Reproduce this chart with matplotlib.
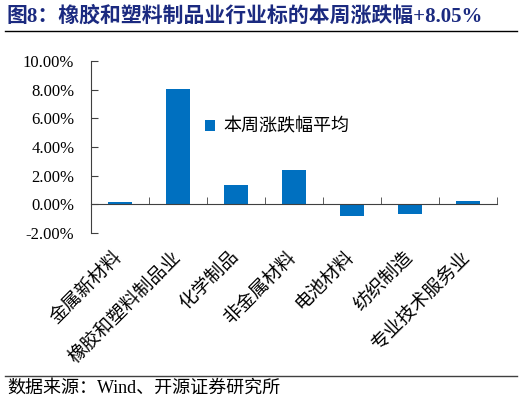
import matplotlib
matplotlib.use("Agg")
import matplotlib.pyplot as plt
from matplotlib.lines import Line2D
from matplotlib.ticker import FuncFormatter, FixedLocator

plt.rcParams['font.family'] = ['Liberation Serif', 'Noto Sans CJK SC', 'DejaVu Sans']

# data (percent change this week)
categories = ['金属新材料', '橡胶和塑料制品业', '化学制品', '非金属材料',
              '电池材料', '纺织制造', '专业技术服务业']
values = [0.14, 8.05, 1.38, 2.38, -0.82, -0.68, 0.23]
yticks = [-2, 0, 2, 4, 6, 8, 10]

bar_color = '#0070C0'
title_color = '#1B2A80'

fig = plt.figure(figsize=(5.22, 4.05), dpi=100)
ax = fig.add_axes([91/522, 1 - 233/405, (497 - 91)/522, (233 - 61)/405])

x = list(range(len(categories)))
ax.bar(x, values, width=0.41, color=bar_color, label='本周涨跌幅平均', zorder=2)

ax.set_xlim(-0.5, len(categories) - 0.5)
ax.set_ylim(-2, 10)
ax.set_yticks(yticks)
ax.yaxis.set_major_formatter(FuncFormatter(lambda v, p: f'{v:.2f}%'))

for s in ['top', 'right']:
    ax.spines[s].set_visible(False)
ax.spines['bottom'].set_position(('data', 0))
ax.spines['left'].set_color('#404040')
ax.spines['bottom'].set_color('#404040')

ax.set_xticks(x)
ax.set_xticklabels(categories, rotation=45, ha='right', va='center',
                   rotation_mode='anchor', fontsize=13.5)
ax.xaxis.set_minor_locator(FixedLocator([i - 0.5 for i in range(len(categories) + 1)]))
ax.tick_params(axis='x', which='major', length=0, pad=36)
ax.tick_params(axis='x', which='minor', direction='in', length=5, color='#404040')
ax.tick_params(axis='y', direction='in', length=5, color='#404040', labelsize=12, pad=12)

ax.legend(loc='center left', bbox_to_anchor=(196/522, 1 - 127/405),
          bbox_transform=fig.transFigure, frameon=False, fontsize=13,
          handlelength=0.55, handleheight=0.55, handletextpad=0.45, borderpad=0)

# title, rules and source note
fig.text(7/522, 1 - 16/405, '图8：橡胶和塑料制品业行业标的本周涨跌幅+8.05%',
         fontsize=15, fontweight='bold', color=title_color, va='center', ha='left')
fig.add_artist(Line2D([5/522, 517/522], [1 - 31/405, 1 - 31/405],
                      transform=fig.transFigure, color='black', lw=1))
fig.add_artist(Line2D([5/522, 517/522], [1 - 376/405, 1 - 376/405],
                      transform=fig.transFigure, color='#404040', lw=1))
fig.text(7/522, 1 - 388/405, '数据来源：Wind、开源证券研究所',
         fontsize=13, color='black', va='center', ha='left')

fig.savefig('out.png', dpi=100)
